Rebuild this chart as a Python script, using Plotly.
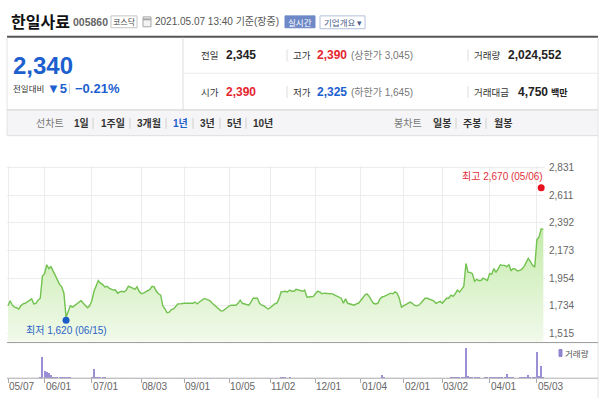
import pandas as pd
import plotly.graph_objects as go

# ---------------- data ----------------
HOLIDAYS = ["2020-08-17", "2020-09-30", "2020-10-01", "2020-10-02", "2020-10-09",
            "2020-12-25", "2020-12-31", "2021-01-01", "2021-02-11", "2021-02-12",
            "2021-03-01", "2021-05-05"]

close = [
    1735, 1775, 1740, 1725, 1720, 1710, 1735, 1750, 1755, 1765,
    1780, 1790, 1750, 1755, 1780, 1795, 1970, 1990, 2060, 2030,
    2045, 2010, 1975, 1930, 1905, 1885, 1835, 1645, 1685, 1735,
    1725, 1735, 1750, 1765, 1775, 1755, 1740, 1720, 1735, 1775,
    1850, 1890, 1935, 1915, 1905, 1885, 1890, 1875, 1865, 1860,
    1860, 1835, 1845, 1850, 1845, 1860, 1890, 1885, 1875, 1865,
    1885, 1850, 1830, 1835, 1845, 1850, 1865, 1890, 1885, 1850,
    1830, 1820, 1735, 1710, 1680, 1685, 1705, 1710, 1735, 1750,
    1750, 1755, 1755, 1755, 1755, 1750, 1755, 1765, 1750, 1765,
    1780, 1790, 1790, 1780, 1775, 1755, 1740, 1725, 1710, 1695,
    1695, 1710, 1725, 1735, 1740, 1740, 1740, 1755, 1780, 1755,
    1750, 1740, 1740, 1765, 1795, 1795, 1795, 1755, 1740, 1735,
    1725, 1710, 1720, 1735, 1750, 1755, 1790, 1845, 1850, 1850,
    1845, 1860, 1850, 1850, 1865, 1860, 1850, 1850, 1860, 1805,
    1805, 1810, 1810, 1830, 1850, 1845, 1830, 1835, 1835, 1835,
    1830, 1830, 1820, 1810, 1805, 1795, 1755, 1790, 1755, 1750,
    1740, 1740, 1750, 1755, 1775, 1795, 1820, 1830, 1810, 1780,
    1755, 1750, 1755, 1790, 1805, 1810, 1820, 1830, 1835, 1830,
    1845, 1835, 1795, 1725, 1735, 1750, 1755, 1765, 1755, 1740,
    1735, 1740, 1755, 1775, 1795, 1795, 1790, 1780, 1775, 1755,
    1765, 1770, 1755, 1775, 1795, 1795, 1820, 1810, 1830, 1860,
    1845, 1865, 1890, 2070, 2000, 2000, 1990, 1930, 1945, 1935,
    1935, 1955, 1945, 1935, 1990, 1985, 2030, 2000, 2030, 2060,
    2055, 2055, 2045, 2060, 2015, 2030, 2025, 2010, 2015, 2025,
    2045, 2085, 2110, 2085, 2055, 2040, 2260, 2280, 2345, 2340,
]

volume_k = [
    400, 300, 350, 300, 250, 300, 350, 300, 250, 300,
    350, 400, 300, 300, 350, 900, 21600, 8000, 6700, 5700,
    3300, 2000, 1500, 1200, 900, 800, 1000, 1800, 1200, 800,
    600, 500, 500, 400, 400, 450, 400, 500, 600, 1200,
    10000, 2000, 1500, 1000, 800, 700, 600, 600, 500, 500,
    600, 500, 400, 400, 400, 400, 500, 400, 400, 400,
    400, 400, 300, 300, 300, 300, 300, 400, 500, 400,
    300, 300, 500, 400, 500, 400, 300, 300, 300, 250,
    250, 250, 200, 200, 200, 200, 200, 200, 200, 200,
    200, 250, 200, 200, 200, 200, 200, 200, 250, 300,
    250, 200, 200, 200, 200, 200, 200, 200, 250, 200,
    200, 200, 200, 200, 300, 250, 200, 200, 200, 200,
    200, 250, 200, 200, 200, 200, 300, 1200, 800, 700,
    600, 700, 600, 500, 600, 400, 300, 300, 300, 400,
    300, 300, 250, 300, 400, 300, 250, 250, 200, 200,
    200, 200, 200, 200, 200, 250, 300, 250, 200, 200,
    200, 200, 200, 200, 250, 300, 400, 300, 300, 250,
    250, 300, 300, 600, 3300, 800, 500, 400, 300, 300,
    300, 300, 400, 600, 400, 300, 300, 250, 250, 250,
    200, 200, 250, 300, 400, 300, 300, 250, 250, 250,
    250, 300, 250, 400, 500, 500, 700, 800, 2000, 900,
    800, 900, 1500, 30500, 2500, 1500, 1200, 900, 800, 700,
    600, 600, 700, 800, 1200, 1500, 1200, 1800, 1500, 1000,
    900, 800, 4300, 1200, 900, 700, 600, 600, 800, 1200,
    1500, 2000, 3300, 1500, 1200, 1800, 27000, 3000, 13000, 2025,
]

x_tick_dates = ["2020-05-07", "2020-06-01", "2020-07-01", "2020-08-03", "2020-09-01",
                "2020-10-05", "2020-11-02", "2020-12-01", "2021-01-04", "2021-02-01",
                "2021-03-02", "2021-04-01", "2021-05-03"]
x_tick_text = ["05/07", "06/01", "07/01", "08/03", "09/01", "10/05", "11/02",
               "12/01", "01/04", "02/01", "03/02", "04/01", "05/03"]
y_tick_vals = [1515, 1734.33, 1953.67, 2173, 2392.33, 2611.67, 2831]
y_tick_text = ["1,515", "1,734", "1,954", "2,173", "2,392", "2,611", "2,831"]

low_date, low_val = ["2020-06-15"], [1620]
high_date, high_val = ["2021-05-06"], [2670]

dates = [d.strftime("%Y-%m-%d") for d in pd.bdate_range("2020-05-07", "2021-05-07")
         if d.strftime("%Y-%m-%d") not in HOLIDAYS]

# ---------------- style ----------------
W, H = 600, 398
KFONT = "Noto Sans CJK KR, sans-serif"
NFONT = "Liberation Sans, Noto Sans CJK KR, sans-serif"
BLUE = "#1d5fce"
RED = "#e4262f"
LINE = "#72c24f"
GRID = "#ececec"

fig = go.Figure()
fig.add_trace(go.Scatter(
    x=dates, y=close, mode="lines", line=dict(color=LINE, width=1.4),
    fill="tozeroy",
    fillgradient=dict(type="vertical", colorscale=[[0, "#f2faec"], [1, "#c4eaa9"]],
                      start=1452, stop=2360),
    xaxis="x", yaxis="y", hoverinfo="skip", showlegend=False))
fig.add_trace(go.Scatter(x=low_date, y=low_val, mode="markers",
                         marker=dict(color="#1a5cc8", size=7), xaxis="x", yaxis="y",
                         hoverinfo="skip", showlegend=False))
fig.add_trace(go.Scatter(x=high_date, y=high_val, mode="markers",
                         marker=dict(color="#e8101e", size=7), xaxis="x", yaxis="y",
                         hoverinfo="skip", showlegend=False))
fig.add_trace(go.Bar(x=dates, y=volume_k, width=0.5,
                     marker=dict(color="#9b8fd6", line=dict(width=0)),
                     xaxis="x2", yaxis="y2", hoverinfo="skip", showlegend=False))

X0, X1 = 7, 545
xr = [-0.47, 249.77]

fig.update_layout(
    width=W, height=H, margin=dict(l=0, r=0, t=0, b=0),
    paper_bgcolor="white", plot_bgcolor="rgba(0,0,0,0)",
    font=dict(family=NFONT, color="#666"),
    bargap=0,
    xaxis=dict(domain=[X0 / W, X1 / W], type="category", range=xr, anchor="y",
               tickvals=x_tick_dates, showticklabels=False, ticks="",
               showgrid=True, gridcolor=GRID, gridwidth=1, zeroline=False, showline=False),
    xaxis2=dict(domain=[X0 / W, X1 / W], type="category", range=xr, anchor="y2",
                matches="x", tickvals=x_tick_dates, showticklabels=False,
                ticks="outside", ticklen=4, tickcolor="#aaa", showgrid=False,
                zeroline=False, showline=False),
    yaxis=dict(domain=[(H - 341) / H, (H - 164) / H], range=[1452, 2839], anchor="x",
               side="right", tickvals=y_tick_vals, ticktext=y_tick_text, ticks="",
               showgrid=True, gridcolor=GRID, zeroline=False, showline=False,
               ticklabelstandoff=3, tickfont=dict(size=10, color="#666", family=NFONT)),
    yaxis2=dict(domain=[(H - 378) / H, (H - 345) / H], range=[0, 33000], anchor="x2",
                showticklabels=False, showgrid=False, zeroline=False, ticks=""),
)

shapes = []


def hline(y, x0, x1, color, w=1):
    shapes.append(dict(type="line", xref="paper", yref="paper", x0=x0 / W, x1=x1 / W,
                       y0=1 - y / H, y1=1 - y / H, line=dict(color=color, width=w)))


def vline(x, y0, y1, color, w=1):
    shapes.append(dict(type="line", xref="paper", yref="paper", x0=x / W, x1=x / W,
                       y0=1 - y0 / H, y1=1 - y1 / H, line=dict(color=color, width=w)))


def rect(x0, y0, x1, y1, fill="rgba(0,0,0,0)", line=None, lw=1):
    shapes.append(dict(type="rect", xref="paper", yref="paper", x0=x0 / W, x1=x1 / W,
                       y0=1 - y1 / H, y1=1 - y0 / H, fillcolor=fill,
                       line=dict(color=line or "rgba(0,0,0,0)", width=lw if line else 0),
                       layer="below" if line is None else "above"))


anns = []


def txt(x, y, s, size, color="#333", bold=False, anchor="left", family=KFONT):
    anns.append(dict(x=x / W, y=1 - y / H, xref="paper", yref="paper",
                     text=f"<b>{s}</b>" if bold else s, showarrow=False,
                     xanchor=anchor, yanchor="middle",
                     font=dict(size=size, color=color, family=family)))


# header
txt(9, 17, "한일사료", 16, "#111", True)
txt(71, 18, "005860", 10.5, "#666", True, family=NFONT)
rect(111, 12, 137, 24, "white", "#c4c4c4")
txt(124, 18, "코스닥", 8, "#444", anchor="center")
rect(143, 13, 151, 23, "#f3f3f3", "#a8a8a8")
hline(15.5, 143, 151, "#a8a8a8", 2)
txt(153, 18, "2021.05.07 13:40 기준(장중)", 10, "#555", family=NFONT)
rect(285, 12, 315, 24, "#6f89c8", "#6f89c8")
txt(300, 18, "실시간", 8.5, "white", anchor="center")
rect(320, 12, 365, 25, "white", "#b3bfda")
txt(342.5, 18.5, "기업개요 ▾", 8.5, "#4b5d8c", anchor="center")

hline(33, 7, 598, "#555", 2)

# price summary
txt(11, 62, "2,340", 24, BLUE, True, family=NFONT)
txt(11, 85, "전일대비", 8.5, "#333")
txt(45, 85, "▼5", 13, BLUE, True, family=NFONT)
vline(69.5, 80, 91, "#d5d5d5")
txt(73, 85, "−0.21%", 13, BLUE, True, family=NFONT)

vline(183, 34, 107, "#dcdcdc")
hline(70, 183, 598, "#ececec")
vline(7, 34, 133, "#e4e4e4")
vline(598, 34, 398, "#e4e4e4")

for yy, items in [
    (52, [("전일", "2,345", "#222", None), ("고가", "2,390", RED, "(상한가 3,045)"),
          ("거래량", "2,024,552", "#222", None)]),
    (89, [("시가", "2,390", RED, None), ("저가", "2,325", BLUE, "(하한가 1,645)"),
          ("거래대금", "4,750", "#222", "백만")]),
]:
    xs = [(199, 224), (291, 315), (472, 506 if yy == 52 else 516)]
    for (lab, val, col, extra), (xl, xv) in zip(items, xs):
        txt(xl, yy, lab, 9.5, "#333")
        txt(xv, yy, val, 12, col, True, family=NFONT)
        if extra == "백만":
            txt(549, yy, extra, 9, "#222", True)
        elif extra:
            txt(349, yy, extra, 10, "#777", family=NFONT)
    vline(287, yy - 6, yy + 6, "#dedede")
    vline(468, yy - 6, yy + 6, "#dedede")

# toolbar
rect(7, 107, 598, 133, "#f5f5f7")
hline(107, 7, 598, "#cfcfcf")
hline(133, 7, 598, "#dedede")
txt(34, 120, "선차트", 10, "#777")
tool = [(72, "1일", "#333"), (99, "1주일", "#333"), (135, "3개월", "#333"),
        (171, "1년", BLUE), (198, "3년", "#333"), (225, "5년", "#333"), (251, "10년", "#333")]
for xx, s, c in tool:
    txt(xx, 120, s, 10, c, True, family=NFONT)
for xx in [93, 130, 166, 193, 220, 246, 456, 486]:
    vline(xx, 115, 126, "#d0d0d0")
txt(392, 120, "봉차트", 10, "#777")
for xx, s in [(431, "일봉"), (461, "주봉"), (492, "월봉")]:
    txt(xx, 120, s, 10, "#333", True)

# chart separators
hline(342, 7, 598, "#9a9a9a")
hline(378, 7, 598, "#b0b0b0")

# x tick labels (left-aligned at each tick, under the volume panel)
for d, s in zip(x_tick_dates, x_tick_text):
    anns.append(dict(x=d, y=1 - 386 / H, xref="x2", yref="paper", text=s,
                     showarrow=False, xanchor="left", yanchor="middle", xshift=-1,
                     font=dict(size=10, color="#666", family=NFONT)))

# volume legend
rect(559, 349, 562, 356, "#8f84cf", "#8f84cf")
txt(563, 352.5, "거래량", 8.5, "#555")

# low / high labels
anns.append(dict(x=low_date[0], y=low_val[0], xref="x", yref="y", showarrow=False,
                 text="최저 1,620 (06/15)", xanchor="center", yanchor="middle", yshift=-10,
                 font=dict(size=10, color="#2a64c4", family=NFONT)))
anns.append(dict(x=high_date[0], y=high_val[0], xref="x", yref="y", showarrow=False,
                 text="최고 2,670 (05/06)", xanchor="right", yanchor="middle", xshift=4,
                 yshift=11, font=dict(size=10, color="#e0303a", family=NFONT)))

fig.update_layout(shapes=shapes, annotations=anns)
fig.write_html("out.html", config={"displayModeBar": False},
               post_script="document.body.style.margin='0';")
